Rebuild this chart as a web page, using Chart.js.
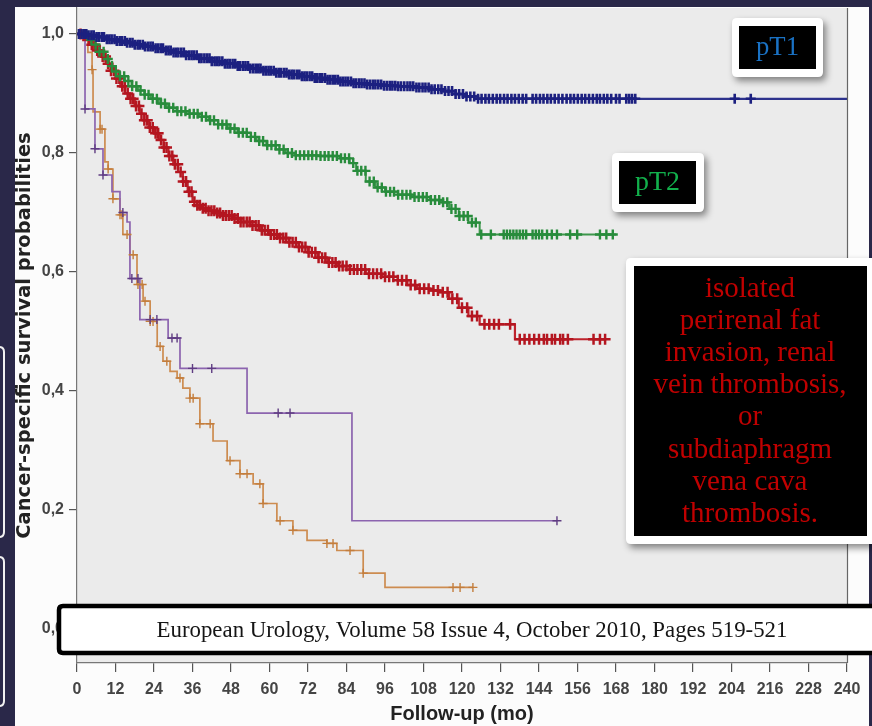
<!DOCTYPE html>
<html><head><meta charset="utf-8">
<script src="https://cdn.jsdelivr.net/npm/chart.js@4.4.0/dist/chart.umd.min.js"></script>
<style>html,body{margin:0;padding:0;background:#2a2849;overflow:hidden}#wrap{width:872px;height:726px;position:relative}</style>
</head><body><div id="wrap"><canvas id="c" width="872" height="726"></canvas></div>
<script>
// ---------- DATA (months, survival) ----------
const xTickValues = [0,12,24,36,48,60,72,84,96,108,120,132,144,156,168,180,192,204,216,228,240];
const yTickValues = [0,0.2,0.4,0.6,0.8,1.0];

const pT1Time = [0,3,6,9,12,15,18,21,24,27,30,34,38,42,46,50,54,58,62,66,70,74,78,82,86,90,95,100,105,110,114,118,121,125,240];
const pT1Surv = [1,0.998,0.995,0.991,0.988,0.985,0.982,0.979,0.976,0.972,0.969,0.964,0.959,0.954,0.950,0.946,0.942,0.938,0.935,0.932,0.929,0.926,0.923,0.920,0.917,0.915,0.913,0.912,0.910,0.907,0.904,0.899,0.895,0.891,0.891];
const pT1Censor = [0.6,1.4,2.1,2.9,3.6,4.5,5.2,6.1,6.8,7.7,8.4,9.3,10.1,10.8,11.7,12.4,13.3,14.0,14.9,15.6,16.5,17.3,18.0,18.9,19.6,20.5,21.2,22.1,22.9,23.6,24.5,25.3,26.1,26.8,27.7,28.5,29.2,30.1,30.9,31.6,32.5,33.3,34.0,34.9,35.7,36.4,37.3,38.1,38.8,39.7,40.5,41.3,42.0,42.9,43.7,44.4,45.3,46.1,46.9,47.6,48.5,49.3,50.1,50.8,51.7,52.5,53.3,54.0,54.9,55.7,56.5,57.2,58.1,58.9,59.7,60.4,61.3,62.1,62.9,63.6,64.5,65.3,66.1,66.9,67.6,68.5,69.3,70.1,70.9,71.6,72.5,73.3,74.1,74.9,75.7,76.4,77.3,78.1,78.9,79.7,80.5,81.3,82.1,82.9,83.7,84.5,85.4,86.2,87.0,87.9,88.7,89.6,90.4,91.3,92.2,93.0,93.9,94.8,95.7,96.6,97.5,98.3,99.2,100.1,101.0,102.0,103.0,103.9,104.8,105.8,106.7,107.7,108.6,109.6,110.5,111.5,112.6,113.6,114.7,115.8,116.9,118.0,119.1,120.3,121.4,122.6,123.8,125.0,126.1,127.3,128.4,129.6,130.8,131.9,133.1,134.2,135.4,136.5,137.7,138.9,140.0,142.0,143.1,144.3,145.4,146.6,147.7,148.9,150.1,151.3,152.6,153.8,154.9,156.1,157.3,158.4,159.6,160.8,162.0,163.0,164.2,165.3,166.5,168.0,169.1,171.2,172.1,173.0,174.0,205.0,210.0];

const pT2Time = [0,2,4,5.5,7,8.5,10,11.5,13,15,17,19,21,23,25.5,28,31,34,38,41,44,47,50,53,56,59,62,65,68,75,82,85,87,90,93,96,100,105,110,113,116,119,122,125.5,168];
const pT2Surv = [1,0.997,0.990,0.982,0.970,0.958,0.946,0.937,0.929,0.921,0.912,0.905,0.898,0.891,0.883,0.876,0.870,0.866,0.861,0.855,0.848,0.841,0.834,0.827,0.820,0.813,0.806,0.800,0.796,0.795,0.791,0.783,0.770,0.752,0.742,0.735,0.730,0.726,0.721,0.717,0.706,0.694,0.683,0.663,0.663];
const pT2Censor = [3.2,4.5,5.8,7.0,8.3,9.6,10.9,12.1,13.4,14.7,16.0,17.2,18.5,19.8,21.1,22.3,23.6,24.9,26.2,27.4,28.7,30.0,31.3,32.5,33.8,35.1,36.4,37.6,38.9,40.2,41.5,42.7,44.0,45.3,46.6,47.8,49.1,50.4,51.7,52.9,54.2,55.5,56.8,58.0,59.3,60.6,61.9,63.1,64.4,65.7,67.0,68.2,69.5,70.8,72.1,73.3,74.6,75.9,77.2,78.4,79.7,81.0,82.3,83.5,84.8,86.1,87.4,88.6,89.9,91.2,92.5,93.7,95.0,96.3,97.6,98.8,100.1,101.4,102.7,103.9,105.2,106.5,107.8,109.0,110.3,111.6,112.9,114.1,115.4,116.7,118.0,119.2,120.5,121.8,123.1,124.3,126,129,133,134,135,136,137,138,139,140,142,143,144,145,146.5,148,149.6,153.7,155.9,163,165,167];

const pT3Time = [0,1.5,3,4.5,6,7.5,9,10.5,12,13.5,15,16.5,18,19.5,21,22.5,24,25.5,27,28.5,30,31.5,33,34.5,36,37.5,39,41,43,45.5,48.5,51,54,57,60,63,66,69,72,75,78,81,85,90,95,100,103,106,110,113,116,119,122,125.5,136.5,165];
const pT3Surv = [1,0.997,0.991,0.982,0.972,0.962,0.950,0.938,0.925,0.912,0.900,0.891,0.879,0.866,0.855,0.843,0.833,0.822,0.809,0.795,0.781,0.768,0.752,0.735,0.718,0.712,0.707,0.703,0.699,0.695,0.690,0.684,0.678,0.670,0.663,0.657,0.650,0.642,0.633,0.624,0.616,0.610,0.604,0.597,0.592,0.586,0.578,0.572,0.569,0.566,0.555,0.540,0.526,0.512,0.487,0.487];
const pT3Censor = [1.1,2.0,2.8,3.7,4.6,5.4,6.3,7.1,8.0,8.9,9.7,10.6,11.5,12.3,13.2,14.1,14.9,15.8,16.7,17.5,18.4,19.3,20.1,21.0,21.9,22.7,23.6,24.5,25.3,26.2,27.1,27.9,28.8,29.7,30.5,31.4,32.3,33.1,34.0,34.9,35.7,36.6,37.5,38.3,39.2,40.1,41.0,41.9,42.8,43.7,44.6,45.5,46.4,47.3,48.2,49.1,50.1,51.0,51.9,52.9,53.8,54.7,55.7,56.6,57.6,58.5,59.5,60.4,61.4,62.3,63.3,64.3,65.2,66.2,67.2,68.2,69.2,70.2,71.2,72.2,73.2,74.3,75.3,76.4,77.4,78.5,79.6,80.6,81.7,82.8,84.0,85.1,86.3,87.4,88.6,89.8,91.0,92.3,93.5,94.8,96.0,97.3,98.6,100.0,101.3,102.7,104.0,105.4,106.8,108.2,109.6,111.1,112.5,114.0,115.5,117.0,118.5,120.0,121.6,123.1,124.7,127.0,128.5,130.0,131.5,135.0,138.0,139.5,141.0,142.5,144.0,145.5,146.5,148.0,149.0,150.6,151.5,153.0,161.0,163.0,164.6];

const pT3cTime = [0,2.5,5.6,8.1,10.9,13.4,15.6,16.5,19.6,28.4,32.1,53.0,85.7,149.6];
const pT3cSurv = [1,0.874,0.807,0.763,0.735,0.700,0.684,0.589,0.520,0.489,0.438,0.363,0.182,0.182];
const pT3cCensor = [2.5,5.6,8.1,14.3,17.1,19.0,22.8,24.9,29.6,31.2,36.0,42.0,62.7,66.4,149.6];

const pT4Time = [0,3.4,4.7,5.0,7.2,8.7,9.7,11.2,13.4,14.3,16.5,18.7,20.6,22.8,25.0,26.8,29.0,31.2,33.0,35.2,38.3,42.4,46.8,50.8,54.9,58.0,62.3,67.3,71.7,77.9,81.0,89.2,96.0,123.4];
const pT4Surv = [1,0.969,0.940,0.869,0.840,0.785,0.773,0.723,0.696,0.663,0.629,0.579,0.551,0.517,0.475,0.450,0.433,0.422,0.405,0.388,0.345,0.316,0.283,0.261,0.244,0.211,0.182,0.166,0.149,0.144,0.132,0.094,0.070,0.070];
const pT4Censor = [4.7,7.2,7.8,9.7,11.2,13.4,14.0,15.6,17.5,19.0,20.3,21.2,22.8,23.7,25.9,28.0,32.1,35.2,36.2,38.3,41.5,47.7,50.8,53.0,57.0,58.0,63.3,67.3,77.9,79.8,85.1,89.2,117.2,119.4,123.4];

// ---------- helpers ----------
function steps(t, s){ return t.map((v,i)=>({x:v, y:s[i]})); }
function survAt(t, s, time){ let v = s[0]; for(let i=0;i<t.length;i++){ if(t[i] <= time) v = s[i]; else break; } return v; }
function censors(t, s, c){ return c.map(v=>({x:v, y:survAt(t,s,v)})); }

const curves = [
  {t:pT1Time, s:pT1Surv, c:pT1Censor, line:'rgb(45,50,140)', mark:'rgb(28,32,128)', r:5, w:2.6, lw:2.2},
  {t:pT2Time, s:pT2Surv, c:pT2Censor, line:'rgb(60,150,75)', mark:'rgb(40,140,60)', r:5, w:2.4, lw:2.0},
  {t:pT3Time, s:pT3Surv, c:pT3Censor, line:'rgb(190,35,45)', mark:'rgb(180,22,32)', r:5.5, w:2.5, lw:2.2},
  {t:pT3cTime, s:pT3cSurv, c:pT3cCensor, line:'rgb(140,100,175)', mark:'rgb(95,60,130)', r:4.5, w:1.4, lw:1.7},
  {t:pT4Time, s:pT4Surv, c:pT4Censor, line:'rgb(205,140,80)', mark:'rgb(195,125,60)', r:4.5, w:1.4, lw:1.7}
];
const datasets = [];
curves.forEach(cv=>{
  datasets.push({type:'scatter', data:censors(cv.t,cv.s,cv.c), pointStyle:'cross', pointRadius:cv.r, pointBorderWidth:cv.w, borderColor:cv.mark, backgroundColor:cv.mark, order:0});
  datasets.push({type:'line', data:steps(cv.t,cv.s), stepped:true, borderColor:cv.line, borderWidth:cv.lw, pointRadius:0, fill:false, order:1});
});

function rrect(ctx,x,y,w,h,r){ ctx.beginPath(); ctx.moveTo(x+r,y); ctx.lineTo(x+w-r,y); ctx.quadraticCurveTo(x+w,y,x+w,y+r); ctx.lineTo(x+w,y+h-r); ctx.quadraticCurveTo(x+w,y+h,x+w-r,y+h); ctx.lineTo(x+r,y+h); ctx.quadraticCurveTo(x,y+h,x,y+h-r); ctx.lineTo(x,y+r); ctx.quadraticCurveTo(x,y,x+r,y); ctx.closePath(); }
function fitSize(ctx,text,family,target){ ctx.font = '100px '+family; return 100*target/ctx.measureText(text).width; }
const SERIF = '"Liberation Serif", "DejaVu Serif", serif';

function labelBox(ctx, ox,oy,ow,oh, ix,iy,iw,ih){
  ctx.save();
  ctx.shadowColor='rgba(0,0,0,0.45)'; ctx.shadowBlur=7; ctx.shadowOffsetX=3; ctx.shadowOffsetY=4;
  ctx.fillStyle='#ffffff'; rrect(ctx,ox,oy,ow,oh,5); ctx.fill();
  ctx.restore();
  ctx.fillStyle='#000000'; ctx.fillRect(ix,iy,iw,ih);
}

const framePlugin = {
  id:'frame',
  beforeDraw(chart){
    const {ctx, chartArea:a} = chart;
    ctx.save();
    ctx.fillStyle='#2a2849'; ctx.fillRect(0,0,872,726);
    ctx.fillStyle='#fcfcfc'; ctx.fillRect(15,7,854,719);
    ctx.fillStyle='#ebebeb'; ctx.fillRect(a.left,a.top,a.right-a.left,a.bottom-a.top);
    ctx.strokeStyle='#f0f0f0'; ctx.lineWidth=2;
    rrect(ctx,-20,347,24,190,5); ctx.stroke();
    rrect(ctx,-20,557,24,149,5); ctx.stroke();
    ctx.restore();
  },
  afterDatasetsDraw(chart){
    const {ctx, chartArea:a} = chart;
    ctx.save(); ctx.strokeStyle='#666'; ctx.lineWidth=1.2;
    ctx.beginPath(); ctx.moveTo(a.right+0.5,a.top); ctx.lineTo(a.right+0.5,a.bottom); ctx.stroke();
    ctx.restore();
  },
  afterDraw(chart){
    const ctx = chart.ctx;
    ctx.save();
    // pT1
    labelBox(ctx,732,18,91,59,739,26,77,43);
    let sz = fitSize(ctx,'pT1',SERIF,43);
    ctx.font = sz+'px '+SERIF; ctx.fillStyle='#1a72c4'; ctx.textAlign='center'; ctx.textBaseline='middle';
    ctx.fillText('pT1',777.5,48);
    // pT2
    labelBox(ctx,612,153,92,59,619,161,77,43);
    sz = fitSize(ctx,'pT2',SERIF,45);
    ctx.font = sz+'px '+SERIF; ctx.fillStyle='#12b04c'; ctx.textAlign='center'; ctx.textBaseline='middle';
    ctx.fillText('pT2',657.5,183);
    // big box
    labelBox(ctx,626,258,260,286,634,266,233,270);
    const lines = ['isolated','perirenal fat','invasion, renal','vein thrombosis,','or','subdiaphragm','vena cava','thrombosis.'];
    sz = fitSize(ctx,'vein thrombosis,',SERIF,193);
    ctx.font = sz+'px '+SERIF; ctx.fillStyle='#c00000'; ctx.textAlign='center'; ctx.textBaseline='middle';
    lines.forEach((l,i)=>ctx.fillText(l,750,289+i*32.2));
    // citation
    ctx.fillStyle='#ffffff'; ctx.strokeStyle='#000'; ctx.lineWidth=4.5;
    rrect(ctx,59,606,830,47,4); ctx.fill(); ctx.stroke();
    const cite='European Urology, Volume 58 Issue 4, October 2010, Pages 519-521';
    sz = fitSize(ctx,cite,SERIF,631);
    ctx.font = sz+'px '+SERIF; ctx.fillStyle='#151515'; ctx.textAlign='center'; ctx.textBaseline='middle';
    ctx.fillText(cite,472,631);
    ctx.restore();
  }
};

const tickFont = {family:'"Liberation Sans Narrow", "Arial Narrow", sans-serif', size:16, weight:'bold'};
new Chart(document.getElementById('c'), {
  data:{datasets},
  options:{
    responsive:false, animation:false, devicePixelRatio:1,
    layout:{padding:{left:15, top:7, right:25, bottom:0}},
    plugins:{legend:{display:false}, tooltip:{enabled:false}},
    scales:{
      x:{type:'linear', min:0, max:240,
        afterBuildTicks:s=>{ s.ticks = xTickValues.map(v=>({value:v})); },
        afterFit:s=>{ s.height = 63; s.paddingLeft = 0; s.paddingRight = 0; },
        grid:{drawOnChartArea:false, drawTicks:true, tickLength:9, color:'#555', lineWidth:1.2},
        border:{display:true, color:'#777', width:1.2},
        ticks:{font:tickFont, color:'#444', padding:8, maxRotation:0, autoSkip:false},
        title:{display:true, text:'Follow-up (mo)', font:{family:'"Liberation Sans", Arial, sans-serif', size:20, weight:'bold'}, color:'#222', padding:{top:0,bottom:0}}
      },
      y:{type:'linear', min:-0.057, max:1.0436,
        afterBuildTicks:s=>{ s.ticks = yTickValues.map(v=>({value:v})); },
        afterFit:s=>{ s.width = 62; s.paddingTop = 0; s.paddingBottom = 0; },
        grid:{drawOnChartArea:false, drawTicks:true, tickLength:8, color:'#555', lineWidth:1.2},
        border:{display:true, color:'#777', width:1.2},
        ticks:{font:tickFont, color:'#444', padding:5, callback:v=>v.toFixed(1).replace('.',',')},
        title:{display:true, text:'Cancer-specific survival probabilities', font:{family:'"DejaVu Sans", sans-serif', size:19.5, weight:'bold', lineHeight:1}, color:'#222', padding:{top:0,bottom:0}}
      }
    }
  },
  plugins:[framePlugin]
});
</script></body></html>
